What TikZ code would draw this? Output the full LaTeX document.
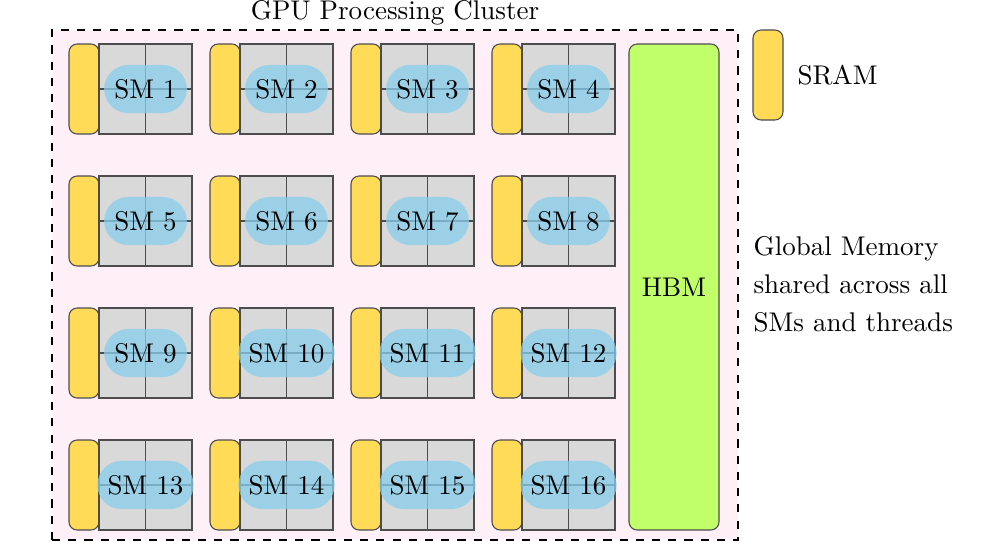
\documentclass[tikz,border=0pt]{standalone}
\usetikzlibrary{shapes.misc}
\definecolor{sram}{HTML}{FFDB58}
\definecolor{cell}{HTML}{D9D9D9}
\definecolor{hbm}{HTML}{C0FF6A}
\definecolor{bg}{HTML}{FFF0F8}
\definecolor{lbl}{HTML}{87CEEB}
\begin{document}
\begin{tikzpicture}[x=0.37pt,y=-0.37pt,
  sramst/.style={draw=black!70,fill=sram,rounded corners=3pt,minimum width=11.1pt,minimum height=33.3pt,inner sep=0pt},
  cellst/.style={draw=black!70,fill=cell,minimum width=17.2pt,minimum height=16.65pt,inner sep=0pt},
  smlbl/.style={rounded rectangle,fill=lbl,fill opacity=0.75,text opacity=1,minimum height=17.8pt,inner xsep=3pt,inner ysep=0pt}]
\useasboundingbox (0,0) rectangle (985,541);
\node[draw,dashed,thick,fill=bg,minimum width=253.8pt,minimum height=188.7pt,inner sep=0pt] (frame) at (395,285) {};
\node (title) at (395,13) {GPU Processing Cluster};
\foreach \r in {0,1,2,3}{
  \foreach \c in {0,1,2,3}{
    \pgfmathtruncatemacro{\n}{\r*4+\c+1}
    \pgfmathsetmacro{\x}{69+141*\c}
    \pgfmathsetmacro{\y}{44+132*\r}
    \node[sramst] (s\n) at (\x+15,\y+45) {};
    \node[cellst] (a\n) at (\x+53.25,\y+22.5) {};
    \node[cellst] (b\n) at (\x+99.75,\y+22.5) {};
    \node[cellst] (c\n) at (\x+53.25,\y+67.5) {};
    \node[cellst] (d\n) at (\x+99.75,\y+67.5) {};
    \node[smlbl] (l\n) at (\x+76.5,\y+45) {SM \n};
  }
}
\node[draw=black!70,fill=hbm,rounded corners=3pt,minimum width=33.3pt,minimum height=179.8pt,inner sep=0pt] (hbm) at (674,287) {HBM};
\node[sramst] (leg) at (768,75) {};
\node[anchor=west] (legt) at (788,75) {SRAM};
\node[anchor=west,align=left,inner sep=0pt] (gm) at (753,284) {Global Memory\\[2pt]shared across all\\[2pt]SMs and threads};
\end{tikzpicture}
\end{document}
